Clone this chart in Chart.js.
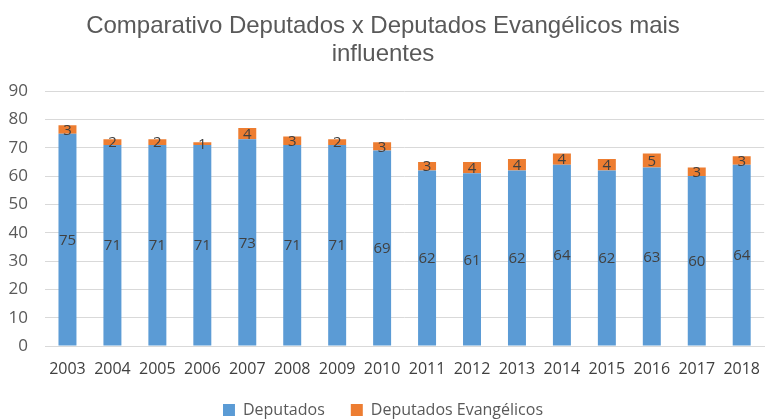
<!DOCTYPE html>
<html>
<head>
<meta charset="utf-8">
<script src="https://cdn.jsdelivr.net/npm/chart.js@4/dist/chart.umd.min.js"></script>
<style>
  html, body { margin: 0; padding: 0; background: #ffffff; }
  #wrap { width: 766px; height: 419px; }
</style>
</head>
<body>
<div id="wrap"><canvas id="c" width="766" height="419"></canvas></div>
<script>
const anos = ['2003','2004','2005','2006','2007','2008','2009','2010','2011','2012','2013','2014','2015','2016','2017','2018'];
const deputados = [75, 71, 71, 71, 73, 71, 71, 69, 62, 61, 62, 64, 62, 63, 60, 64];
const evangelicos = [3, 2, 2, 1, 4, 3, 2, 3, 3, 4, 4, 4, 4, 5, 3, 3];
const yTicks = [0, 10, 20, 30, 40, 50, 60, 70, 80, 90];

// Writes each segment's value in the middle of its bar piece
const rotulos = {
  id: 'rotulos',
  afterDatasetsDraw(chart) {
    const ctx = chart.ctx;
    ctx.save();
    ctx.font = '15px "Open Sans", sans-serif';
    ctx.fillStyle = '#404040';
    ctx.textAlign = 'center';
    ctx.textBaseline = 'middle';
    chart.data.datasets.forEach((ds, i) => {
      const meta = chart.getDatasetMeta(i);
      meta.data.forEach((bar, j) => {
        const p = bar.getProps(['x', 'y', 'base'], true);
        ctx.fillText(String(ds.data[j]), p.x, (p.y + p.base) / 2 + 1);
      });
    });
    ctx.restore();
  }
};

new Chart(document.getElementById('c'), {
  type: 'bar',
  data: {
    labels: anos,
    datasets: [
      { label: 'Deputados', data: deputados, backgroundColor: '#5b9bd5', categoryPercentage: 1, barPercentage: 0.4 },
      { label: 'Deputados Evangélicos', data: evangelicos, backgroundColor: '#ed7d31', categoryPercentage: 1, barPercentage: 0.4 }
    ]
  },
  options: {
    responsive: false,
    animation: false,
    devicePixelRatio: 1,
    layout: { padding: { left: 0, right: 0, top: 12, bottom: -9 } },
    plugins: {
      title: {
        display: true,
        text: ['Comparativo Deputados x Deputados Evangélicos mais', 'influentes'],
        color: '#595959',
        font: { family: '"Liberation Sans", Arial, sans-serif', size: 24, weight: 'normal', lineHeight: 1.17 },
        padding: { top: 0, bottom: 23 }
      },
      legend: {
        position: 'bottom',
        labels: {
          color: '#595959',
          font: { family: '"Open Sans", sans-serif', size: 16 },
          boxWidth: 12,
          boxHeight: 12,
          padding: 26
        }
      },
      tooltip: { enabled: false }
    },
    scales: {
      x: {
        stacked: true,
        grid: { display: false },
        border: { color: '#d9d9d9' },
        ticks: { color: '#404040', font: { family: '"Open Sans", sans-serif', size: 16 }, padding: 6, maxRotation: 0 },
        afterFit(axis) { axis.height = 30; }
      },
      y: {
        stacked: true,
        min: 0,
        max: 90,
        afterBuildTicks(axis) { axis.ticks = yTicks.map(v => ({ value: v })); },
        grid: { color: '#d9d9d9', drawTicks: false },
        border: { display: false },
        ticks: { color: '#595959', font: { family: '"Open Sans", sans-serif', size: 17 }, padding: 17 },
        afterFit(axis) { axis.width = 45; }
      }
    }
  },
  plugins: [rotulos]
});
</script>
</body>
</html>
